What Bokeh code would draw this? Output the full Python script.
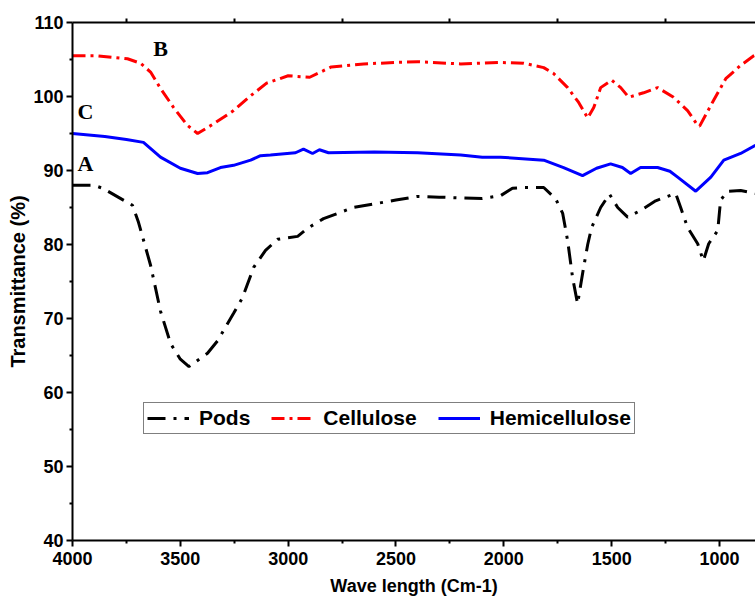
from bokeh.plotting import figure
from bokeh.models import Range1d, LinearAxis, FixedTicker, Legend, LegendItem, ColumnDataSource
from bokeh.core.properties import value
from bokeh.embed import file_html
from bokeh.resources import INLINE

# ---- data ----
pods_x = [4000, 3900, 3860, 3722, 3694, 3638, 3592, 3545, 3500, 3460, 3374, 3327, 3253, 3212,
          3160, 3105, 3049, 2956, 2910, 2836, 2697, 2500, 2400, 2300, 2100, 2015, 1960, 1908,
          1815, 1760, 1727, 1704, 1681, 1658, 1630, 1611, 1593, 1551, 1510, 1472, 1426, 1366,
          1296, 1203, 1180, 1148, 1101, 1075, 1050, 1008, 995, 962, 902, 833]
pods_y = [88.0, 88.0, 87.6, 85.3, 83.0, 77.2, 71.0, 66.6, 64.5, 63.5, 65.3, 67.0, 70.7, 72.8,
          76.9, 79.2, 80.7, 81.1, 82.2, 83.5, 85.0, 86.0, 86.5, 86.4, 86.2, 86.6, 87.6, 87.7,
          87.7, 86.2, 84.2, 80.5, 75.5, 72.0, 76.9, 80.0, 82.3, 85.0, 86.8, 85.0, 83.7, 84.6,
          85.9, 86.9, 85.0, 82.3, 80.1, 77.8, 80.1, 81.9, 86.0, 87.2, 87.3, 86.9]

cell_x = [4000, 3884, 3745, 3685, 3638, 3592, 3531, 3467, 3420, 3346, 3253, 3174, 3100, 3000,
          2900, 2800, 2650, 2500, 2400, 2200, 2015, 1908, 1815, 1769, 1704, 1653, 1611, 1583,
          1551, 1500, 1458, 1421, 1352, 1287, 1213, 1148, 1101, 1092, 1027, 971, 902, 841, 833]
cell_y = [105.5, 105.5, 105.1, 104.5, 103.3, 101.1, 98.5, 96.1, 95.0, 96.3, 98.1, 100.1, 101.8, 102.8,
          102.6, 104.0, 104.4, 104.6, 104.7, 104.4, 104.6, 104.5, 103.9, 103.1, 101.2, 99.2, 97.1, 98.5,
          101.2, 102.2, 101.2, 99.9, 100.5, 101.2, 99.9, 98.1, 96.1, 96.0, 99.5, 102.4, 104.2, 105.5, 105.6]

hemi_x = [4000, 3850, 3750, 3671, 3592, 3500, 3420, 3374, 3314, 3253, 3174, 3128, 3082, 2966,
          2929, 2887, 2855, 2813, 2600, 2400, 2200, 2100, 2015, 1815, 1723, 1635, 1570, 1505,
          1450, 1412, 1366, 1287, 1230, 1194, 1110, 1040, 980, 902, 833]
hemi_y = [95.0, 94.6, 94.2, 93.8, 91.8, 90.3, 89.6, 89.7, 90.4, 90.7, 91.4, 92.0, 92.1, 92.4,
          92.9, 92.3, 92.8, 92.4, 92.5, 92.4, 92.1, 91.8, 91.8, 91.4, 90.4, 89.3, 90.3, 90.9,
          90.4, 89.6, 90.4, 90.4, 89.9, 89.1, 87.2, 89.1, 91.4, 92.3, 93.4]

series_names = ["Pods", "Cellulose", "Hemicellulose"]
curve_letters = ["B", "C", "A"]
letter_x = [3592, 3940, 3940]
letter_y = [106.5, 98.0, 91.0]

x_major = [4000, 3500, 3000, 2500, 2000, 1500, 1000]
x_minor = [3750, 3250, 2750, 2250, 1750, 1250]
y_major = [40, 50, 60, 70, 80, 90, 100, 110]
y_minor = [45, 55, 65, 75, 85, 95, 105]

FONT = "Liberation Sans"

p = figure(width=755, height=603, output_backend="svg", toolbar_location=None,
           x_range=Range1d(4000, 833), y_range=Range1d(40, 110),
           min_border_left=72, min_border_right=0, min_border_top=22, min_border_bottom=63)
p.outline_line_color = None
p.grid.visible = False
p.background_fill_color = "white"
p.border_fill_color = "white"

r1 = p.line(pods_x, pods_y, line_color="black", line_width=3, line_dash="18 8 3 8")
r2 = p.line(cell_x, cell_y, line_color="red", line_width=3, line_dash="13 5 3 5")
r3 = p.line(hemi_x, hemi_y, line_color="blue", line_width=3)

src = ColumnDataSource(dict(x=letter_x, y=letter_y, t=curve_letters))
p.text(x="x", y="y", text="t", source=src, text_font=value("Liberation Serif"),
       text_font_style="bold", text_font_size="22px", text_color="black",
       text_align="center", text_baseline="middle")

# axes
xa = p.xaxis[0]
xa.ticker = FixedTicker(ticks=x_major, minor_ticks=x_minor)
xa.axis_label = "Wave length (Cm-1)"
ya = p.yaxis[0]
ya.ticker = FixedTicker(ticks=y_major, minor_ticks=y_minor)
ya.axis_label = "Transmittance (%)"
for ax in (xa, ya):
    ax.axis_line_width = 2
    ax.axis_line_color = "black"
    ax.major_tick_line_width = 2
    ax.minor_tick_line_width = 2
    ax.major_tick_in = 0
    ax.major_tick_out = 6
    ax.minor_tick_in = 0
    ax.minor_tick_out = 3
    ax.major_label_text_font = FONT
    ax.major_label_text_font_style = "bold"
    ax.major_label_text_font_size = "18px"
    ax.major_label_text_color = "black"
    ax.axis_label_text_font = FONT
    ax.axis_label_text_font_style = "bold"
    ax.axis_label_text_color = "black"
xa.axis_label_text_font_size = "18px"
ya.axis_label_text_font_size = "20px"
xa.major_label_standoff = 5
xa.axis_label_standoff = 8
ya.major_label_standoff = 3
ya.axis_label_standoff = 1

top = LinearAxis(ticker=FixedTicker(ticks=[], minor_ticks=x_minor),
                 axis_line_width=2, major_tick_line_color=None,
                 minor_tick_line_width=2, minor_tick_in=0, minor_tick_out=4)
p.add_layout(top, "above")

legend = Legend(items=[LegendItem(label=series_names[0], renderers=[r1]),
                       LegendItem(label=series_names[1], renderers=[r2]),
                       LegendItem(label=series_names[2], renderers=[r3])],
                orientation="horizontal", location=(71, 106),
                label_text_font=FONT, label_text_font_style="bold", label_text_font_size="21px",
                label_text_color="black", label_height=20, glyph_height=20,
                glyph_width=42, label_standoff=10, spacing=21, padding=3, margin=0,
                border_line_color="black", border_line_width=1.5, background_fill_alpha=1)
p.add_layout(legend, "center")

open("out.html", "w").write(file_html(p, INLINE))
